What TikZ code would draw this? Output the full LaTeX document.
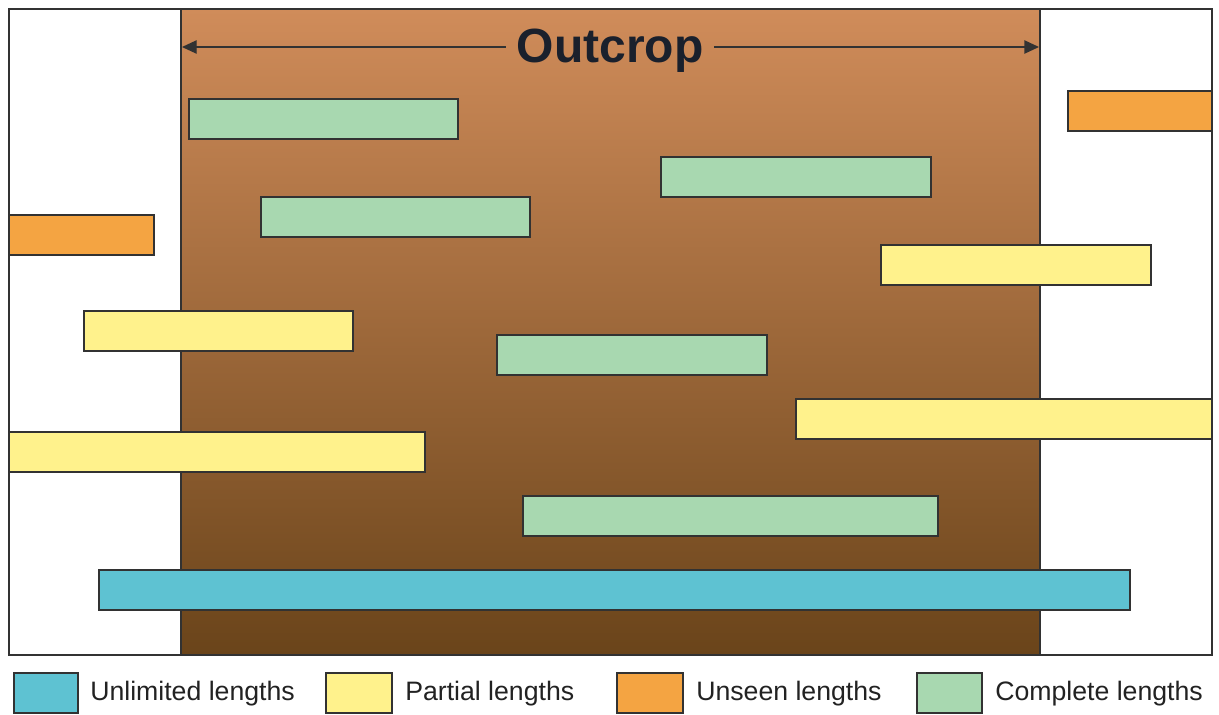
\documentclass[tikz,border=0pt]{standalone}
\usepackage{fontspec}
\setmainfont{Liberation Sans}
\usetikzlibrary{arrows.meta}
\definecolor{browntop}{RGB}{208,140,90}
\definecolor{brownbot}{RGB}{106,68,26}
\definecolor{cgreen}{RGB}{168,216,176}
\definecolor{cyellow}{RGB}{255,242,140}
\definecolor{corange}{RGB}{244,164,66}
\definecolor{cblue}{RGB}{94,194,210}
\definecolor{cline}{RGB}{50,50,50}
\definecolor{ctext}{RGB}{34,34,34}
\definecolor{ctitle}{RGB}{26,32,44}
\tikzset{
  barbox/.style={draw=cline, line width=1pt},
  greenbar/.style={barbox, fill=cgreen},
  yellowbar/.style={barbox, fill=cyellow},
  orangebar/.style={barbox, fill=corange},
  bluebar/.style={barbox, fill=cblue},
  legtext/.style={anchor=base west, text=ctext, font=\fontsize{20}{24}\selectfont, inner sep=0pt},
  titlearrow/.style={draw=cline, line width=1pt, -{Triangle[length=11pt,width=10pt]}},
}
\begin{document}
\begin{tikzpicture}[x=0.75pt,y=-0.75pt]
\useasboundingbox (0,0) rectangle (1219,714);
% outcrop
\shade[top color=browntop, bottom color=brownbot] (181,9) rectangle (1040,655);
\draw[cline, line width=1pt] (181,9) -- (181,655) (1040,9) -- (1040,655);
% frame
\draw[cline, line width=1.2pt] (9,9) rectangle (1212,655);
% title
\node[font=\bfseries\fontsize{36}{40}\selectfont, text=ctitle, inner xsep=8pt, inner ysep=0pt, anchor=base] (title) at (610,62) {Outcrop};
\coordinate (al) at (182,47);
\coordinate (ar) at (1039,47);
\draw[titlearrow] (title.west |- al) -- (al);
\draw[titlearrow] (title.east |- ar) -- (ar);
% bars
\draw[greenbar] (189,99) rectangle (458,139);
\draw[orangebar] (1068,91) rectangle (1212,131);
\draw[greenbar] (661,157) rectangle (931,197);
\draw[greenbar] (261,197) rectangle (530,237);
\draw[orangebar] (9,215) rectangle (154,255);
\draw[yellowbar] (881,245) rectangle (1151,285);
\draw[yellowbar] (84,311) rectangle (353,351);
\draw[greenbar] (497,335) rectangle (767,375);
\draw[yellowbar] (796,399) rectangle (1212,439);
\draw[yellowbar] (9,432) rectangle (425,472);
\draw[greenbar] (523,496) rectangle (938,536);
\draw[bluebar] (99,570) rectangle (1130,610);
% legend
\draw[bluebar] (14,673) rectangle (78,713);
\node[legtext] (l1) at (90,700) {Unlimited lengths};
\draw[yellowbar] (326,673) rectangle (392,713);
\node[legtext] (l2) at (405,700) {Partial lengths};
\draw[orangebar] (617,673) rectangle (683,713);
\node[legtext] (l3) at (696,700) {Unseen lengths};
\draw[greenbar] (917,673) rectangle (982,713);
\node[legtext] (l4) at (995,700) {Complete lengths};
\end{tikzpicture}
\end{document}
